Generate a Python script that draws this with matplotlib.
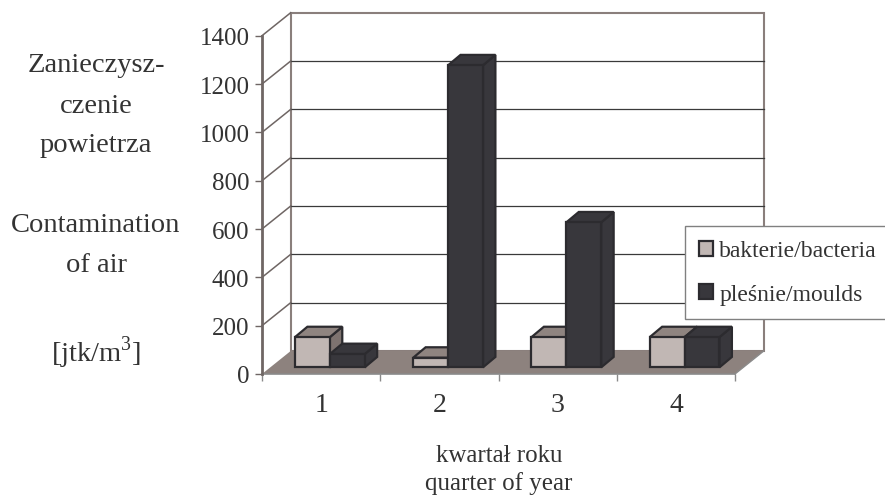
import matplotlib
matplotlib.use('Agg')
import matplotlib.pyplot as plt
from matplotlib.patches import Polygon, Patch

plt.rcParams['font.family'] = ['Liberation Serif', 'DejaVu Serif']

# air contamination per quarter [jtk/m3]
quarters = ['1', '2', '3', '4']
bacteria = [125, 40, 125, 125]
moulds = [55, 1250, 600, 125]
y_ticks = [0, 200, 400, 600, 800, 1000, 1200, 1400]
series_names = ['bakterie/bacteria', 'pleśnie/moulds']
ylabel_lines = ['Zanieczysz-', 'czenie', 'powietrza', '', 'Contamination', 'of air', '', '']

# face colours: front, top, side
bact_col = ('#c1b7b4', '#8f8480', '#7e7370')
mould_col = ('#38373c', '#38373c', '#38373c')
edge_col = '#2c2b2f'
wall_col = '#8a7f7c'
text_col = '#333333'

W, H = 885, 502
fig = plt.figure(figsize=(W / 100, H / 100), dpi=100)
ax = fig.add_axes([262 / W, 1 - 375 / H, (735 - 262) / W, (375 - 36.7) / H])
ax.set_xlim(0, 4)
ax.set_ylim(0, 1400)
ax.patch.set_visible(False)

# depth of the box in data units (category units, value units)
DX = 0.2427
DY = 95.2

# back wall
ax.add_patch(Polygon([(DX, DY), (4 + DX, DY), (4 + DX, 1400 + DY), (DX, 1400 + DY)],
                     closed=True, facecolor='white', edgecolor=wall_col, lw=1.5, clip_on=False, zorder=1))
for v in y_ticks[1:-1]:
    ax.plot([DX, 4 + DX], [v + DY, v + DY], color='#3a3a3a', lw=0.9, clip_on=False, zorder=1.5)
# side wall lines
for v in y_ticks[1:]:
    ax.plot([0, DX], [v, v + DY], color='#6f6664', lw=1.1, clip_on=False, zorder=1.5)
# floor
ax.add_patch(Polygon([(0, 0), (4, 0), (4 + DX, DY), (DX, DY)], closed=True,
                     facecolor='#8d827e', edgecolor='none', clip_on=False, zorder=2))
ax.plot([4, 4 + DX], [0, DY], color='#8a8a8a', lw=1.0, clip_on=False, zorder=2)

# bars
z0 = 0.29
gap = 0.2085
bw = 0.295
bdx = 0.105
bdy = 43.0


def draw_bar(x0, val, cols):
    x0 = x0 + z0 * DX
    y0 = z0 * DY
    x1 = x0 + bw
    y1 = y0 + val
    front = [(x0, y0), (x1, y0), (x1, y1), (x0, y1)]
    top = [(x0, y1), (x1, y1), (x1 + bdx, y1 + bdy), (x0 + bdx, y1 + bdy)]
    side = [(x1, y0), (x1 + bdx, y0 + bdy), (x1 + bdx, y1 + bdy), (x1, y1)]
    for pts, c in ((side, cols[2]), (top, cols[1]), (front, cols[0])):
        ax.add_patch(Polygon(pts, closed=True, facecolor=c, edgecolor=edge_col,
                             lw=1.6, joinstyle='miter', clip_on=False, zorder=3))


for i in range(len(quarters)):
    draw_bar(i + gap, bacteria[i], bact_col)
    draw_bar(i + gap + bw, moulds[i], mould_col)

# axes
for s in ['top', 'right']:
    ax.spines[s].set_visible(False)
ax.spines['left'].set_color('#6f6664')
ax.spines['left'].set_linewidth(2)
ax.spines['bottom'].set_color('#8a8a8a')
ax.spines['bottom'].set_linewidth(1.2)
ax.spines['left'].set_zorder(4)
ax.set_yticks(y_ticks)
ax.set_yticklabels([str(v) for v in y_ticks], fontsize=18, color=text_col)
ax.set_xticks([0, 1, 2, 3, 4], minor=True)
ax.set_xticks([0.5, 1.5, 2.5, 3.5])
ax.set_xticklabels(quarters, fontsize=20, color=text_col)
ax.tick_params(axis='x', which='major', length=0, pad=13)
ax.tick_params(axis='x', which='minor', length=5, color='#8a8a8a', width=1)
ax.tick_params(axis='y', length=5, color='#6f6664', width=1, pad=4)

# y axis title, one line at a time
baselines = [71.7, 112.7, 151.7, 0, 231.7, 271.7]
for txt, yb in zip(ylabel_lines, baselines):
    if txt:
        fig.text(96 / W, 1 - yb / H, txt, ha='center', va='baseline', fontsize=20.5, color=text_col)
fig.text(96 / W, 1 - 361.7 / H, r'[jtk/m$^{\mathregular{3}}$]', ha='center', va='baseline',
         fontsize=20.5, color=text_col)

# x axis title
fig.text(499 / W, 1 - 461.7 / H, 'kwartał roku', ha='center', va='baseline', fontsize=18, color=text_col)
fig.text(499 / W, 1 - 490 / H, 'quarter of year', ha='center', va='baseline', fontsize=18, color=text_col)

# legend
handles = [Patch(facecolor=bact_col[0], edgecolor=edge_col, lw=1.6),
           Patch(facecolor=mould_col[0], edgecolor=edge_col, lw=1.6)]
leg = fig.legend(handles, series_names, loc='upper left', bbox_to_anchor=(685 / W, 1 - 227.3 / H),
                 fontsize=17, frameon=True, fancybox=False, framealpha=1, edgecolor='#808080',
                 handlelength=0.6, handleheight=0.6, handletextpad=0.25, borderpad=0.6,
                 labelspacing=0.95, borderaxespad=0)
leg.get_frame().set_linewidth(1.0)
for t in leg.get_texts():
    t.set_color(text_col)

fig.savefig('out.png', dpi=100)
